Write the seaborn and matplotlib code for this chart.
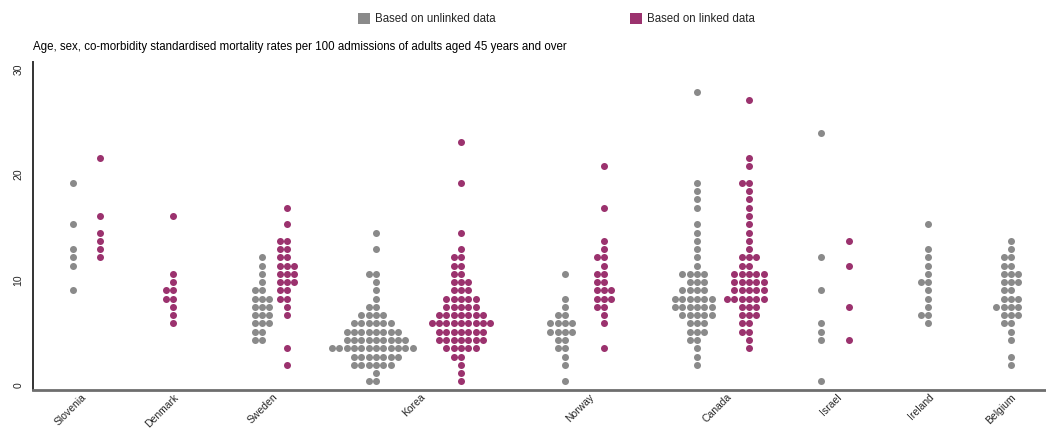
import numpy as np
import matplotlib
matplotlib.use("Agg")
import matplotlib.pyplot as plt
from matplotlib import font_manager
from matplotlib.patches import Patch
import seaborn as sns

# ---------------- data ----------------
countries = ["Slovenia", "Denmark", "Sweden", "Korea", "Norway",
             "Canada", "Israel", "Ireland", "Belgium"]
series_names = ["Based on unlinked data", "Based on linked data"]
y_ticks = [0, 10, 20, 30]
subtitle = ("Age, sex, co-morbidity standardised mortality rates per 100 "
            "admissions of adults aged 45 years and over")

# each group: rate level of every dot row, and the number of dots on that row
slovenia_unlinked_rate = [8.99, 11.34, 12.13, 12.91, 15.27, 19.19]
slovenia_unlinked_n = [1, 1, 1, 1, 1, 1]
slovenia_linked_rate = [12.13, 12.91, 13.70, 14.48, 16.05, 21.55]
slovenia_linked_n = [1, 1, 1, 1, 1, 1]

denmark_linked_rate = [5.85, 6.63, 7.42, 8.20, 8.99, 9.77, 10.56, 16.05]
denmark_linked_n = [1, 1, 1, 2, 2, 1, 1, 1]

sweden_unlinked_rate = [4.28, 5.06, 5.85, 6.63, 7.42, 8.20, 8.99, 9.77,
                        10.56, 11.34, 12.13]
sweden_unlinked_n = [2, 2, 3, 3, 3, 3, 2, 1, 1, 1, 1]
sweden_linked_rate = [1.92, 3.49, 6.63, 7.42, 8.20, 8.99, 9.77, 10.56,
                      11.34, 12.13, 12.91, 13.70, 15.27, 16.84]
sweden_linked_n = [1, 1, 1, 1, 2, 2, 3, 3, 3, 2, 2, 2, 1, 1]

korea_unlinked_rate = [0.35, 1.14, 1.92, 2.71, 3.49, 4.28, 5.06, 5.85, 6.63,
                       7.42, 8.20, 8.99, 9.77, 10.56, 12.91, 14.48]
korea_unlinked_n = [2, 1, 6, 7, 12, 9, 8, 6, 4, 2, 1, 1, 1, 2, 1, 1]
korea_linked_rate = [0.35, 1.14, 1.92, 2.71, 3.49, 4.28, 5.06, 5.85, 6.63,
                     7.42, 8.20, 8.99, 9.77, 10.56, 11.34, 12.13, 12.91,
                     14.48, 19.19, 23.12]
korea_linked_n = [1, 1, 1, 2, 5, 7, 7, 9, 7, 5, 5, 3, 3, 2, 2, 2, 1, 1, 1, 1]

norway_unlinked_rate = [0.35, 1.92, 2.71, 3.49, 4.28, 5.06, 5.85, 6.63,
                        7.42, 8.20, 10.56]
norway_unlinked_n = [1, 1, 1, 2, 2, 4, 4, 2, 1, 1, 1]
norway_linked_rate = [3.49, 5.85, 6.63, 7.42, 8.20, 8.99, 9.77, 10.56,
                      11.34, 12.13, 12.91, 13.70, 16.84, 20.76]
norway_linked_n = [1, 1, 1, 2, 3, 3, 2, 2, 1, 2, 1, 1, 1, 1]

canada_unlinked_rate = [1.92, 2.71, 3.49, 4.28, 5.06, 5.85, 6.63, 7.42,
                        8.20, 8.99, 9.77, 10.56, 11.34, 12.13, 12.91, 13.70,
                        14.48, 15.27, 16.84, 17.62, 18.41, 19.19, 27.83]
canada_unlinked_n = [1, 1, 1, 2, 3, 3, 5, 6, 6, 4, 3, 4, 1, 1, 1, 1,
                     1, 1, 1, 1, 1, 1, 1]
canada_linked_rate = [3.49, 4.28, 5.06, 5.85, 6.63, 7.42, 8.20, 8.99, 9.77,
                      10.56, 11.34, 12.13, 12.91, 13.70, 14.48, 15.27, 16.05,
                      16.84, 17.62, 18.41, 19.19, 20.76, 21.55, 27.04]
canada_linked_n = [1, 1, 2, 2, 3, 3, 6, 5, 5, 5, 2, 3, 1, 1, 1, 1, 1,
                   1, 1, 1, 2, 1, 1, 1]

israel_unlinked_rate = [0.35, 4.28, 5.06, 5.85, 8.99, 12.13, 23.90]
israel_unlinked_n = [1, 1, 1, 1, 1, 1, 1]
israel_linked_rate = [4.28, 7.42, 11.34, 13.70]
israel_linked_n = [1, 1, 1, 1]

ireland_unlinked_rate = [5.85, 6.63, 7.42, 8.20, 8.99, 9.77, 10.56, 11.34,
                         12.13, 12.91, 15.27]
ireland_unlinked_n = [1, 2, 1, 1, 1, 2, 1, 1, 1, 1, 1]

belgium_unlinked_rate = [1.92, 2.71, 4.28, 5.06, 5.85, 6.63, 7.42, 8.20,
                         8.99, 9.77, 10.56, 11.34, 12.13, 12.91, 13.70]
belgium_unlinked_n = [1, 1, 1, 1, 2, 3, 4, 3, 2, 3, 3, 2, 2, 1, 1]

groups = [
    ("Slovenia", 0, slovenia_unlinked_rate, slovenia_unlinked_n),
    ("Slovenia", 1, slovenia_linked_rate, slovenia_linked_n),
    ("Denmark", 1, denmark_linked_rate, denmark_linked_n),
    ("Sweden", 0, sweden_unlinked_rate, sweden_unlinked_n),
    ("Sweden", 1, sweden_linked_rate, sweden_linked_n),
    ("Korea", 0, korea_unlinked_rate, korea_unlinked_n),
    ("Korea", 1, korea_linked_rate, korea_linked_n),
    ("Norway", 0, norway_unlinked_rate, norway_unlinked_n),
    ("Norway", 1, norway_linked_rate, norway_linked_n),
    ("Canada", 0, canada_unlinked_rate, canada_unlinked_n),
    ("Canada", 1, canada_linked_rate, canada_linked_n),
    ("Israel", 0, israel_unlinked_rate, israel_unlinked_n),
    ("Israel", 1, israel_linked_rate, israel_linked_n),
    ("Ireland", 0, ireland_unlinked_rate, ireland_unlinked_n),
    ("Belgium", 0, belgium_unlinked_rate, belgium_unlinked_n),
]

# ---------------- layout / style ----------------
W, H, DPI = 1046, 429, 100
PX_PER_UNIT = 120.0                 # x axis unit (one unit ~ one country slot)
tick_pos = [0.404, 1.167, 1.992, 3.225, 4.633, 5.775, 6.692, 7.467, 8.150]
# horizontal shift of each series' column from the country tick
series_shift = {
    "Slovenia": (-0.071, 0.154), "Denmark": (0.0, 0.0),
    "Sweden": (-0.084, 0.125), "Korea": (-0.367, 0.342),
    "Norway": (-0.200, 0.125), "Canada": (-0.242, 0.192),
    "Israel": (-0.125, 0.108), "Ireland": (-0.008, 0.0),
    "Belgium": (0.0, 0.0),
}
colors = ["#8a8a8a", "#9b326e"]
dot_diam_px = 7.0

sns.set_style("white")
names = {f.name for f in font_manager.fontManager.ttflist}
narrow = "Liberation Sans Narrow" in names
base_family = "Liberation Sans Narrow" if narrow else "Liberation Sans"
plt.rcParams["font.family"] = [base_family, "DejaVu Sans"]
fs_small = 10.0 if narrow else 8.3
fs_tick = 9.0 if narrow else 7.5

fig = plt.figure(figsize=(W / DPI, H / DPI), dpi=DPI)
ax = fig.add_axes([33 / W, 39 / H, 1013 / W, 328 / H])

for country, s, rate, n in groups:
    vals = np.repeat(np.asarray(rate, dtype=float), n)
    xc = tick_pos[countries.index(country)] + series_shift[country][s]
    sns.swarmplot(x=np.full(len(vals), xc), y=vals, orient="x",
                  native_scale=True, color=colors[s],
                  size=dot_diam_px * 72 / DPI, linewidth=0, ax=ax,
                  warn_thresh=1.0)

ax.set_xlim(0, 1013 / PX_PER_UNIT)
ax.set_ylim(-0.47, 30.67)
ax.set_xlabel("")
ax.set_ylabel("")
ax.set_yticks(y_ticks)
ax.set_yticklabels([str(t) for t in y_ticks], rotation=90, va="center",
                   fontsize=fs_tick)
ax.set_xticks(tick_pos)
ax.set_xticklabels(countries, rotation=45, ha="right", va="top",
                   rotation_mode="anchor", fontsize=fs_tick)
ax.tick_params(axis="both", direction="in", length=3, width=1.6,
               color="black")
ax.tick_params(axis="y", pad=7)
ax.tick_params(axis="x", pad=1.5)
for side in ["top", "right"]:
    ax.spines[side].set_visible(False)
ax.spines["left"].set_color("#333333")
ax.spines["left"].set_linewidth(1.4)
ax.spines["bottom"].set_color("#6e6e6e")
ax.spines["bottom"].set_linewidth(2.0)
ax.grid(False)

fig.text(33 / W, 1 - 47 / H, subtitle, ha="left", va="center",
         fontsize=fs_small, color="black")

handles = [Patch(facecolor=c, edgecolor="none") for c in colors]
fig.legend(handles, series_names, ncol=2, loc="center left",
           bbox_to_anchor=(358 / W, 1 - 19 / H), frameon=False,
           borderpad=0, borderaxespad=0,
           fontsize=fs_small, handlelength=1.05, handleheight=1.05,
           handletextpad=0.45, columnspacing=11.6)

fig.savefig("out.png", dpi=DPI)
